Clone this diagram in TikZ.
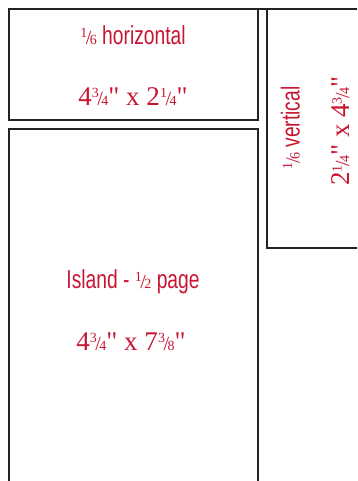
\documentclass[tikz,border=0pt]{standalone}
\usepackage{fontspec}
\setmainfont[Ligatures=TeXOff]{Liberation Serif}
\newfontfamily\condsans[FakeStretch=0.74]{Liberation Sans}
\definecolor{cRed}{RGB}{200,22,50}
\definecolor{cLine}{RGB}{35,35,35}
% small stacked fraction, sizes fixed for this picture
\newcommand{\frc}[2]{{\rmfamily\fontsize{14}{14}\selectfont\raisebox{7.5pt}{#1}\kern-1.5pt{\fontsize{20}{20}\selectfont/}\kern-1.5pt#2}}
\tikzset{
  boxline/.style={draw=cLine,line width=2pt},
  namelbl/.style={text=cRed,font=\condsans\fontsize{26}{26}\selectfont,
                  anchor=base,inner sep=0pt},
  sizelbl/.style={text=cRed,font=\fontsize{27}{27}\selectfont,
                  anchor=base,inner sep=0pt}
}

\begin{document}
\begin{tikzpicture}[x=1pt,y=-1pt]
  \useasboundingbox (0,0) rectangle (357,481);
  \clip (0,0) rectangle (357,481);

  % ad boxes
  \draw[boxline] (9,9) -- (357,9);
  \draw[boxline] (9,9) rectangle (257.5,120.5);
  \draw[boxline] (266.5,9) rectangle (375,248);
  \draw[boxline] (9,129.5) rectangle (257.5,500);

  % labels
  \node[namelbl] (h0) at (133,45) {\frc{1}{6} horizontal};
  \node[sizelbl] (h1) at (133,105.5) {4\frc{3}{4}" x 2\frc{1}{4}"};
  \node[namelbl,rotate=90] (v0) at (299.5,128) {\frc{1}{6} vertical};
  \node[sizelbl,rotate=90] (v1) at (349,131) {2\frc{1}{4}" x 4\frc{3}{4}"};
  \node[namelbl] (i0) at (133,288.5) {Island - \frc{1}{2} page};
  \node[sizelbl] (i1) at (131,350) {4\frc{3}{4}" x 7\frc{3}{8}"};
\end{tikzpicture}
\end{document}
